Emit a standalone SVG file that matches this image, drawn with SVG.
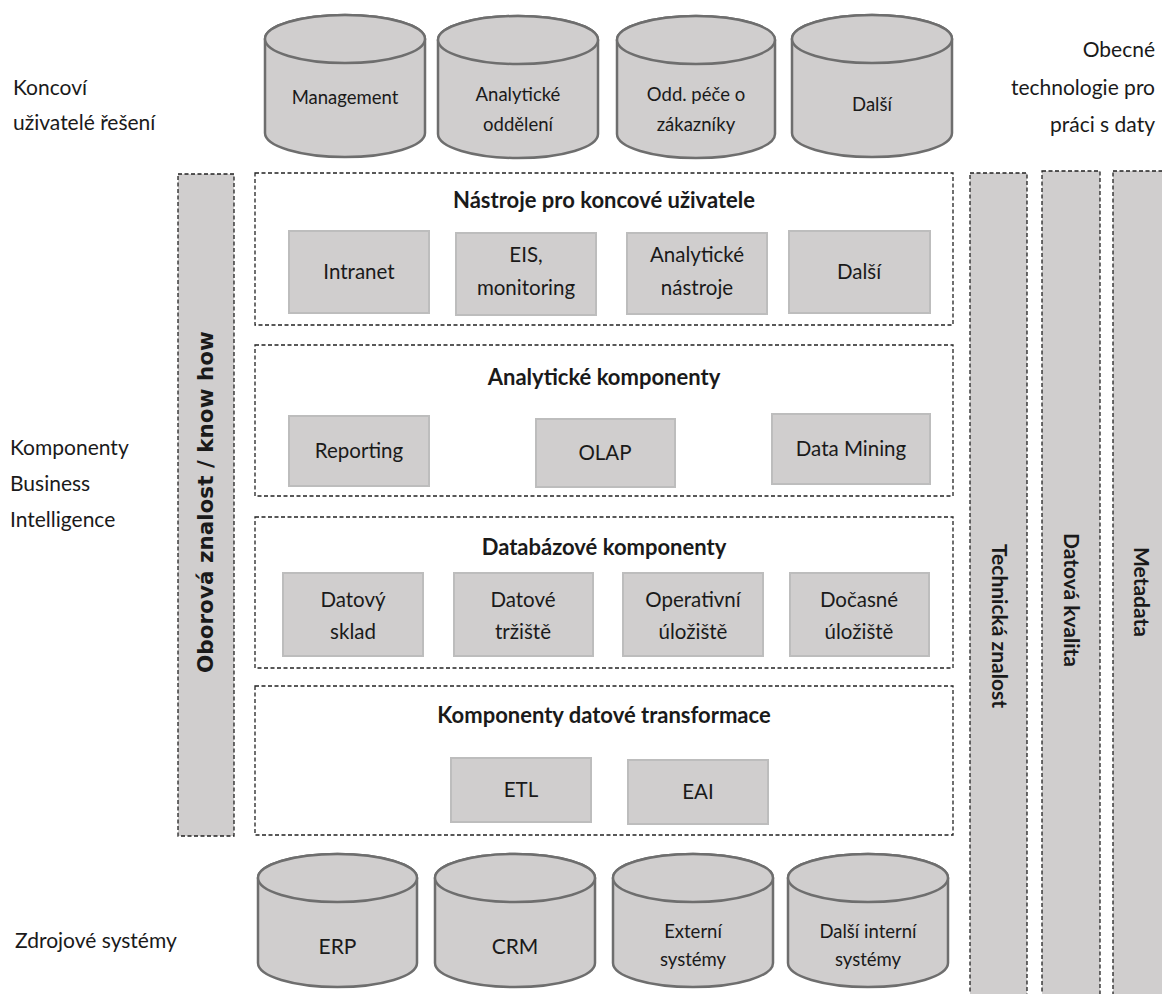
<svg xmlns="http://www.w3.org/2000/svg" width="1162" height="994" viewBox="0 0 1162 994">
<style>
text{font-family:Lato,"Open Sans","Liberation Sans",sans-serif;fill:#1a1a1a}
.lbl{font-size:21px}
.cyl path,.cyl ellipse{fill:#d0cece;stroke:#6e6e6e;stroke-width:2.5}
.ct{font-size:18.5px;text-anchor:middle}
.ctb{font-size:21px;text-anchor:middle}
.item rect{fill:#d0cece;stroke:#bdbdbd;stroke-width:2}
.it{font-size:20.5px;text-anchor:middle}
.dbox{fill:#fff;stroke:#222;stroke-width:1.3;stroke-dasharray:4 2.5}
.col{fill:#d0cece;stroke:#222;stroke-width:1.3;stroke-dasharray:4 2.5}
.ttl{font-size:22px;font-weight:bold;text-anchor:middle}
.vt{font-size:21px;font-weight:bold;text-anchor:middle}
.vo{font-family:"DejaVu Sans",Verdana,sans-serif;font-size:21.5px;font-weight:bold;text-anchor:middle}
</style>

<g id="labels">
<text class="lbl" x="13" y="95">Koncoví</text>
<text class="lbl" x="13" y="130">uživatelé řešení</text>
<text class="lbl" x="10" y="455">Komponenty</text>
<text class="lbl" x="10" y="491">Business</text>
<text class="lbl" x="10" y="527">Intelligence</text>
<text class="lbl" x="15" y="948">Zdrojové systémy</text>
<text class="lbl" x="1155" y="57" text-anchor="end">Obecné</text>
<text class="lbl" x="1155" y="95" text-anchor="end">technologie pro</text>
<text class="lbl" x="1155" y="132" text-anchor="end">práci s daty</text>
</g>

<g id="col-oborova">
<rect class="col" x="178" y="174" width="56" height="662"/>
<text class="vo" transform="translate(213,502) rotate(-90)">Oborová znalost / know how</text>
</g>
<g id="col-technicka">
<rect class="col" x="970" y="173" width="57" height="830"/>
<text class="vt" transform="translate(992,626) rotate(90)">Technická znalost</text>
</g>
<g id="col-datova">
<rect class="col" x="1042" y="171" width="58" height="830"/>
<text class="vt" transform="translate(1064,600) rotate(90)">Datová kvalita</text>
</g>
<g id="col-metadata">
<rect class="col" x="1113" y="171" width="60" height="830"/>
<text class="vt" transform="translate(1134,592) rotate(90)">Metadata</text>
</g>

<g id="box-nastroje">
<rect class="dbox" x="255" y="173" width="698" height="152"/>
<text class="ttl" x="604" y="208">Nástroje pro koncové uživatele</text>
</g>
<g id="box-analyticke">
<rect class="dbox" x="255" y="345" width="698" height="151"/>
<text class="ttl" x="604" y="385">Analytické komponenty</text>
</g>
<g id="box-databazove">
<rect class="dbox" x="255" y="517" width="698" height="151"/>
<text class="ttl" x="604" y="555">Databázové komponenty</text>
</g>
<g id="box-transformace">
<rect class="dbox" x="255" y="686" width="698" height="149"/>
<text class="ttl" x="604" y="723">Komponenty datové transformace</text>
</g>

<g id="item-intranet" class="item"><rect x="289" y="231" width="140" height="82"/><text class="it" x="359" y="279">Intranet</text></g>
<g id="item-eis" class="item"><rect x="456" y="233" width="140" height="82"/><text class="it" x="526" y="262">EIS,</text><text class="it" x="526" y="295">monitoring</text></g>
<g id="item-analyticke-nastroje" class="item"><rect x="627" y="233" width="140" height="81"/><text class="it" x="697" y="262">Analytické</text><text class="it" x="697" y="295">nástroje</text></g>
<g id="item-dalsi" class="item"><rect x="789" y="231" width="141" height="82"/><text class="it" x="859" y="279">Další</text></g>

<g id="item-reporting" class="item"><rect x="289" y="416" width="140" height="70"/><text class="it" x="359" y="458">Reporting</text></g>
<g id="item-olap" class="item"><rect x="536" y="419" width="139" height="68"/><text class="it" x="605" y="460">OLAP</text></g>
<g id="item-datamining" class="item"><rect x="772" y="414" width="158" height="70"/><text class="it" x="851" y="456">Data Mining</text></g>

<g id="item-datovy-sklad" class="item"><rect x="283" y="573" width="140" height="83"/><text class="it" x="353" y="607">Datový</text><text class="it" x="353" y="639">sklad</text></g>
<g id="item-datove-trziste" class="item"><rect x="454" y="573" width="139" height="83"/><text class="it" x="523" y="607">Datové</text><text class="it" x="523" y="639">tržiště</text></g>
<g id="item-operativni" class="item"><rect x="623" y="573" width="140" height="83"/><text class="it" x="693" y="607">Operativní</text><text class="it" x="693" y="639">úložiště</text></g>
<g id="item-docasne" class="item"><rect x="790" y="573" width="139" height="83"/><text class="it" x="859" y="607">Dočasné</text><text class="it" x="859" y="639">úložiště</text></g>

<g id="item-etl" class="item"><rect x="451" y="758" width="140" height="64"/><text class="it" x="521" y="797">ETL</text></g>
<g id="item-eai" class="item"><rect x="628" y="760" width="140" height="64"/><text class="it" x="698" y="799">EAI</text></g>

<g id="cyl-management" class="cyl">
<path d="M265 39 L265 133 A80 24 0 0 0 425 133 L425 39 A80 24 0 0 0 265 39 Z"/>
<ellipse cx="345" cy="39" rx="80" ry="24"/>
<text class="ct" x="345" y="104">Management</text>
</g>
<g id="cyl-analyticke" class="cyl">
<path d="M438 40 L438 134 A80 24 0 0 0 598 134 L598 40 A80 24 0 0 0 438 40 Z"/>
<ellipse cx="518" cy="40" rx="80" ry="24"/>
<text class="ct" x="518" y="101">Analytické</text>
<text class="ct" x="518" y="131">oddělení</text>
</g>
<g id="cyl-odd" class="cyl">
<path d="M617 40 L617 134 A79 24 0 0 0 775 134 L775 40 A79 24 0 0 0 617 40 Z"/>
<ellipse cx="696" cy="40" rx="79" ry="24"/>
<text class="ct" x="696" y="101">Odd. péče o</text>
<text class="ct" x="696" y="131">zákazníky</text>
</g>
<g id="cyl-dalsi" class="cyl">
<path d="M792 39 L792 133 A80 24 0 0 0 952 133 L952 39 A80 24 0 0 0 792 39 Z"/>
<ellipse cx="872" cy="39" rx="80" ry="24"/>
<text class="ct" x="872" y="111">Další</text>
</g>

<g id="cyl-erp" class="cyl">
<path d="M258 878 L258 963 A79.5 24 0 0 0 417 963 L417 878 A79.5 24 0 0 0 258 878 Z"/>
<ellipse cx="337.5" cy="878" rx="79.5" ry="24"/>
<text class="ctb" x="337.5" y="954">ERP</text>
</g>
<g id="cyl-crm" class="cyl">
<path d="M435 878 L435 963 A80 24 0 0 0 595 963 L595 878 A80 24 0 0 0 435 878 Z"/>
<ellipse cx="515" cy="878" rx="80" ry="24"/>
<text class="ctb" x="515" y="954">CRM</text>
</g>
<g id="cyl-externi" class="cyl">
<path d="M613 878 L613 963 A80 24 0 0 0 773 963 L773 878 A80 24 0 0 0 613 878 Z"/>
<ellipse cx="693" cy="878" rx="80" ry="24"/>
<text class="ct" x="693" y="938">Externí</text>
<text class="ct" x="693" y="966">systémy</text>
</g>
<g id="cyl-dalsi-interni" class="cyl">
<path d="M788 878 L788 963 A80 24 0 0 0 948 963 L948 878 A80 24 0 0 0 788 878 Z"/>
<ellipse cx="868" cy="878" rx="80" ry="24"/>
<text class="ct" x="868" y="938">Další interní</text>
<text class="ct" x="868" y="966">systémy</text>
</g>

<g id="connectors"></g>
</svg>
